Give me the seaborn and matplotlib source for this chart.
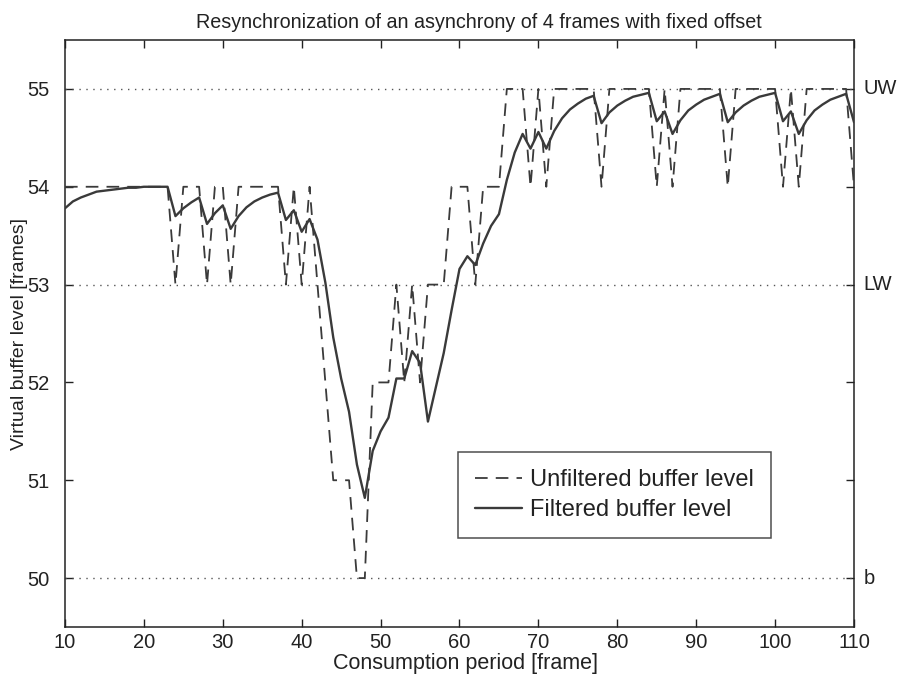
import numpy as np
import pandas as pd
import matplotlib
matplotlib.use("Agg")
import matplotlib.pyplot as plt
import seaborn as sns

# Consumption periods (frames)
frames = list(range(10, 111))

# Unfiltered virtual buffer level [frames]
unfiltered = [
    54, 54, 54, 54, 54, 54, 54, 54, 54, 54,   # 10-19
    54, 54, 54, 54, 53, 54, 54, 54, 53, 54,   # 20-29
    54, 53, 54, 54, 54, 54, 54, 54, 53, 54,   # 30-39
    53, 54, 53, 52, 51, 51, 51, 50, 50, 52,   # 40-49
    52, 52, 53, 52, 53, 52, 53, 53, 53, 54,   # 50-59
    54, 54, 53, 54, 54, 54, 55, 55, 55, 54,   # 60-69
    55, 54, 55, 55, 55, 55, 55, 55, 54, 55,   # 70-79
    55, 55, 55, 55, 55, 54, 55, 54, 55, 55,   # 80-89
    55, 55, 55, 55, 54, 55, 55, 55, 55, 55,   # 90-99
    55, 54, 55, 54, 55, 55, 55, 55, 55, 55,   # 100-109
    54,                                       # 110
]

# Filtered virtual buffer level [frames]
filtered = [
    53.78, 53.85, 53.89, 53.92, 53.95, 53.96, 53.97, 53.98, 53.99, 53.99,  # 10-19
    54.00, 54.00, 54.00, 54.00, 53.70, 53.78, 53.84, 53.89, 53.62, 53.73,  # 20-29
    53.81, 53.57, 53.70, 53.79, 53.85, 53.89, 53.92, 53.94, 53.66, 53.76,  # 30-39
    53.54, 53.67, 53.46, 53.02, 52.46, 52.04, 51.70, 51.16, 50.82, 51.30,  # 40-49
    51.50, 51.64, 52.04, 52.04, 52.32, 52.20, 51.60, 51.95, 52.30, 52.74,  # 50-59
    53.16, 53.29, 53.20, 53.42, 53.60, 53.72, 54.07, 54.35, 54.54, 54.39,  # 60-69
    54.56, 54.39, 54.57, 54.70, 54.79, 54.85, 54.90, 54.93, 54.65, 54.76,  # 70-79
    54.83, 54.88, 54.92, 54.94, 54.96, 54.67, 54.77, 54.54, 54.68, 54.78,  # 80-89
    54.84, 54.89, 54.92, 54.95, 54.66, 54.76, 54.83, 54.88, 54.92, 54.94,  # 90-99
    54.96, 54.67, 54.77, 54.54, 54.68, 54.78, 54.84, 54.89, 54.92, 54.95,  # 100-109
    54.66,                                                                 # 110
]

# Watermark levels drawn as dotted reference lines
marks = [55, 53, 50]
mark_labels = ["UW", "LW", "b"]

x_ticks = list(range(10, 111, 10))
y_ticks = [50, 51, 52, 53, 54, 55]

sns.set_theme(style="white")
plt.rcParams["font.family"] = ["Liberation Sans", "DejaVu Sans"]
plt.rcParams["xtick.direction"] = "in"
plt.rcParams["ytick.direction"] = "in"

fig = plt.figure(figsize=(9.09, 6.83), dpi=100)
ax = fig.add_axes([0.0715, 0.082, 0.868, 0.8594])

ink = "#222222"
line_col = "#3a3a3a"

for level in marks:
    ax.axhline(level, color="#555555", linestyle=(0, (1, 4)), linewidth=1.0, zorder=1)

df = pd.DataFrame({"frame": frames, "unf": unfiltered, "filt": filtered})

sns.lineplot(data=df, x="frame", y="unf", ax=ax, color=line_col,
             linewidth=1.3, linestyle=(0, (7, 4.5)),
             label="Unfiltered buffer level", zorder=3)
sns.lineplot(data=df, x="frame", y="filt", ax=ax, color=line_col,
             linewidth=1.7, label="Filtered buffer level", zorder=4)

ax.set_xlim(10, 110)
ax.set_ylim(49.5, 55.5)
ax.set_xticks(x_ticks)
ax.set_yticks(y_ticks)
ax.tick_params(axis="both", which="both", direction="in", length=6,
               width=1.0, color=ink, labelsize=14.5,
               top=True, right=True, bottom=True, left=True,
               labelcolor=ink)
ax.tick_params(axis="x", pad=4)
ax.tick_params(axis="y", pad=11)

for sp in ax.spines.values():
    sp.set_color(ink)
    sp.set_linewidth(1.1)

for level, lab in zip(marks, mark_labels):
    ax.text(1.012, level, lab, transform=ax.get_yaxis_transform(),
            ha="left", va="center", fontsize=14.5, color=ink)

ax.set_xlabel("Consumption period [frame]", fontsize=15.5, color=ink, labelpad=1)
ax.xaxis.set_label_coords(0.507, -0.045)
ax.set_ylabel("Virtual buffer level [frames]", fontsize=14, color=ink)
ax.yaxis.set_label_coords(-0.047, 0.5)
ax.set_title("Resynchronization of an asynchrony of 4 frames with fixed offset",
             fontsize=14.2, color=ink, pad=9, x=0.525)

leg = ax.legend(loc="upper left", bbox_to_anchor=(0.498, 0.298),
                fontsize=17, frameon=True, fancybox=False, shadow=False,
                handlelength=2.0, borderpad=0.72, labelspacing=0.35,
                handletextpad=0.35, borderaxespad=0)
leg.get_frame().set_edgecolor(ink)
leg.get_frame().set_linewidth(1.1)
for t in leg.get_texts():
    t.set_color(ink)

fig.savefig("out.png", dpi=100)
